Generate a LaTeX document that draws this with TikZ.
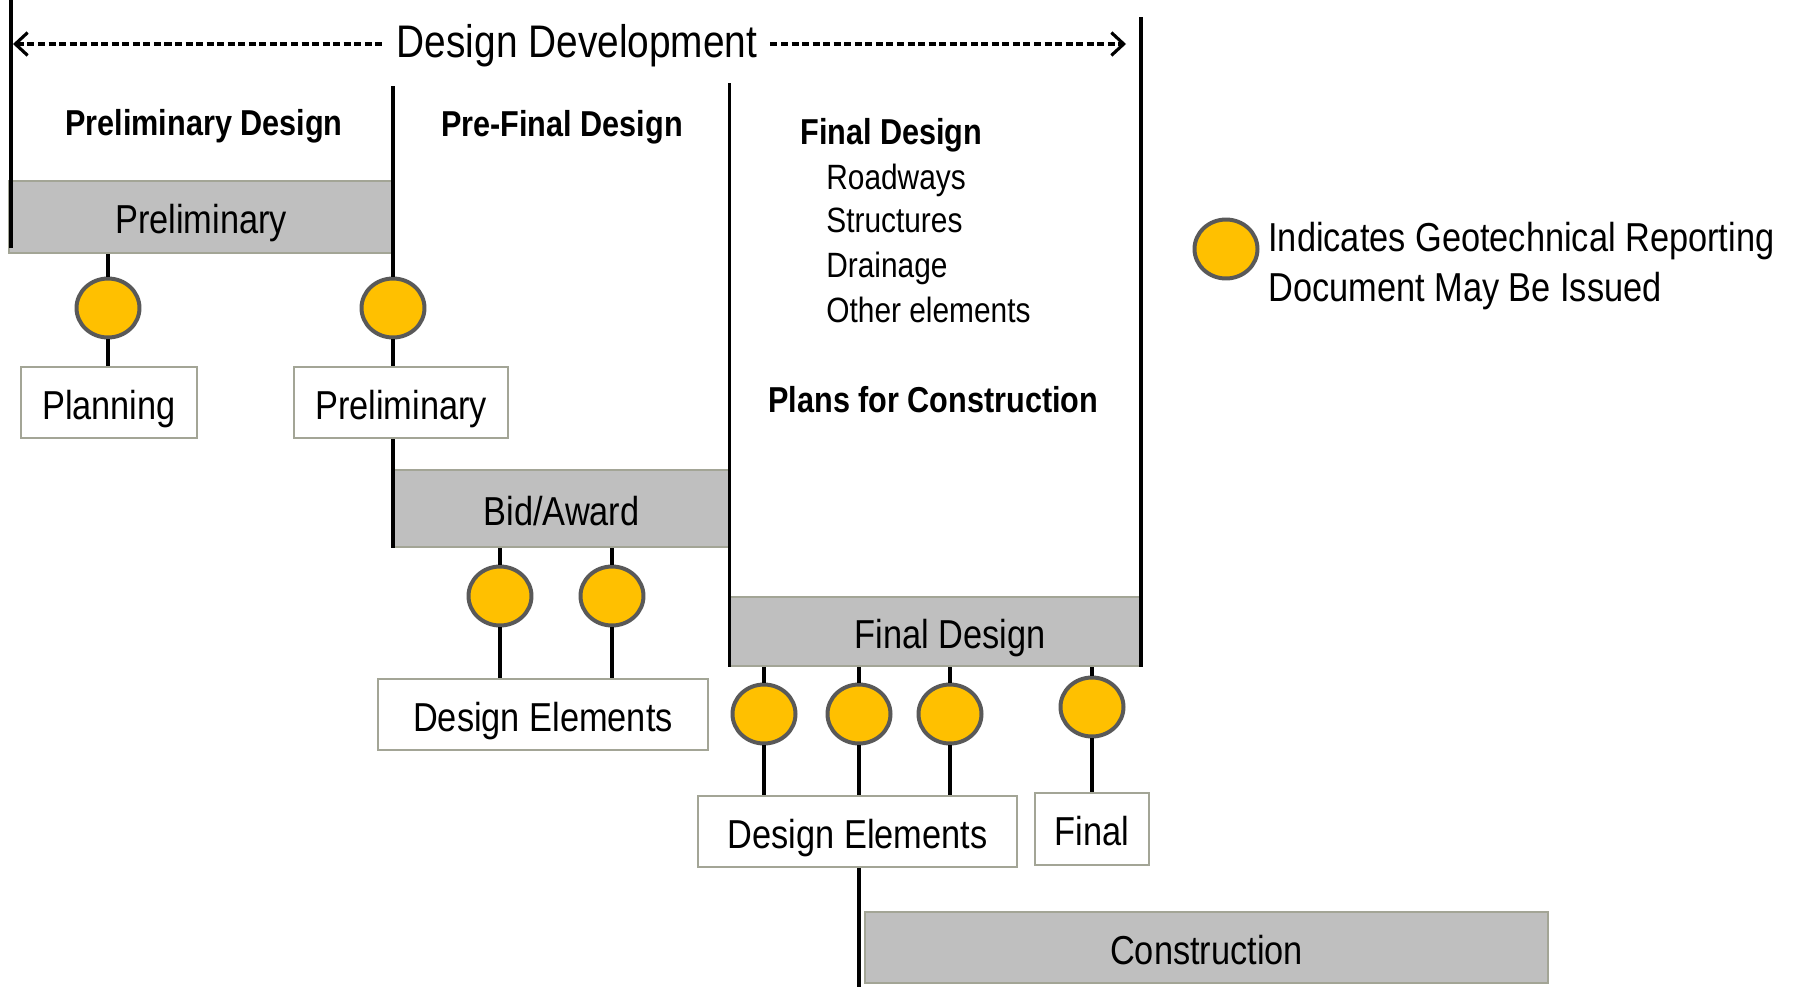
\documentclass[tikz,border=0pt]{standalone}
\usepackage{fontspec}
\setmainfont{Liberation Sans}[FakeStretch=0.85]
\usepackage{tikz}
\usetikzlibrary{shapes.geometric,arrows.meta}

\definecolor{barfill}{HTML}{BFBFBF}
\definecolor{barline}{HTML}{A3A596}
\definecolor{geofill}{HTML}{FFC000}
\definecolor{geoline}{HTML}{595959}

\newcommand{\boxfont}{\fontsize{23}{27}\selectfont}
\newcommand{\ddfont}{\fontsize{26}{31}\selectfont}
\newcommand{\headfont}{\fontsize{20.5}{24}\selectfont\bfseries}
\newcommand{\itemfont}{\fontsize{20}{24}\selectfont}

\begin{document}
\begin{tikzpicture}[x=0.02cm,y=-0.02cm,
    bar/.style={draw=barline,fill=barfill,line width=1.2pt,inner sep=0pt,text height=20pt,text depth=1.2pt,font=\boxfont},
    doc/.style={draw=barline,fill=white,line width=1.2pt,inner sep=0pt,text height=20pt,text depth=1.2pt,font=\boxfont},
    geo/.style={ellipse,draw=geoline,fill=geofill,line width=2.27pt,minimum width=1.26cm,minimum height=1.18cm,inner sep=0pt},
    link/.style={line width=1.9pt},
    span/.style={line width=1.8pt,dash pattern=on 4pt off 2pt},
    lbl/.style={inner sep=0pt,text height=15pt,text depth=4.4pt}]
          \useasboundingbox (0,0) rectangle (1798,987);
          % phases
          \node[bar,minimum width=7.68cm,minimum height=1.44cm] (pbar) at (201,217) {Preliminary};
          \node[bar,minimum width=6.7cm,minimum height=1.54cm] (bid) at (561.5,508.5) {Bid/Award};
          \node[bar,minimum width=8.24cm,minimum height=1.38cm] (fbar) at (935,631.5) {\hspace*{0.6cm}Final Design};
          \node[bar,minimum width=13.66cm,minimum height=1.42cm] (cons) at (1206.5,947.5) {Construction};
          % documents
          \node[doc,minimum width=3.52cm,minimum height=1.42cm] (plan) at (109,402.5) {Planning};
          \node[doc,minimum width=4.28cm,minimum height=1.42cm] (pdoc) at (401,402.5) {Preliminary};
          \node[doc,minimum width=6.6cm,minimum height=1.42cm] (de1) at (543,714.5) {Design Elements};
          \node[doc,minimum width=6.38cm,minimum height=1.42cm] (de2) at (857.5,831.5) {Design Elements};
          \node[doc,minimum width=2.28cm,minimum height=1.44cm] (fdoc) at (1092,829) {Final};
          % reporting points
          \node[geo] (g1) at (108,308) {};
          \node[geo] (g2) at (393,308) {};
          \node[geo] (g3) at (500,596) {};
          \node[geo] (g4) at (612,596) {};
          \node[geo] (g5) at (764,714) {};
          \node[geo] (g6) at (859,714) {};
          \node[geo] (g7) at (950,714) {};
          \node[geo] (g8) at (1092,707) {};
          \node[geo] (gkey) at (1226,249) {};
          % headings
          \node[font=\ddfont] (dd) at (577,46) {Design Development};
          \node[lbl,font=\headfont] (hpre) at (204,126) {Preliminary Design};
          \node[lbl,font=\headfont] (hpf) at (562,127) {Pre-Final Design};
          \node[lbl,font=\headfont,anchor=west] (hfin) at (800,135) {Final Design};
          \node[lbl,font=\itemfont,anchor=west] (i1) at (826,180) {Roadways};
          \node[lbl,font=\itemfont,anchor=west] (i2) at (826,223) {Structures};
          \node[lbl,font=\itemfont,anchor=west] (i3) at (826,268) {Drainage};
          \node[lbl,font=\itemfont,anchor=west] (i4) at (826,313) {Other elements};
          \node[lbl,font=\headfont,anchor=west] (hpc) at (768,403) {Plans for Construction};
          \node[inner sep=0pt,font=\fontsize{23}{28.7}\selectfont,anchor=west,align=left] (key) at (1268,266) {Indicates Geotechnical Reporting\\Document May Be Issued};
          % design development span
          \coordinate (ddl) at (13,44);
          \coordinate (ddr) at (1126,44);
          \draw[span,{Straight Barb[length=7pt,width=13pt]}-,shorten >=5pt] (ddl) -- (ddl -| dd.west);
          \draw[span,-{Straight Barb[length=7pt,width=13pt]},shorten <=4pt] (ddr -| dd.east) -- (ddr);
          % dividers
          \coordinate (top0) at (11,0);
          \coordinate (top1) at (393,86);
          \coordinate (top2) at (729.5,83);
          \coordinate (top3) at (1141,17);
          \coordinate (bot) at (0,987);
          \draw[link] (top0) -- (11,248);
          \draw[link] (top1) -- (g2.north);
          \draw[link] (top2) -- (top2 |- fbar.south);
          \draw[link] (top3) -- (top3 |- fbar.south);
          % connectors
          \draw[link] (g1.north |- pbar.south) -- (g1.north);
          \draw[link] (g1.south) -- (g1.south |- plan.north);
          \draw[link] (g2.south) -- (g2.south |- pdoc.north);
          \draw[link] (g2 |- pdoc.south) -- (g2 |- bid.south);
          \draw[link] (g3.north |- bid.south) -- (g3.north);
          \draw[link] (g3.south) -- (g3.south |- de1.north);
          \draw[link] (g4.north |- bid.south) -- (g4.north);
          \draw[link] (g4.south) -- (g4.south |- de1.north);
          \draw[link] (g5.north |- fbar.south) -- (g5.north);
          \draw[link] (g5.south) -- (g5.south |- de2.north);
          \draw[link] (g6.north |- fbar.south) -- (g6.north);
          \draw[link] (g6.south) -- (g6.south |- de2.north);
          \draw[link] (g7.north |- fbar.south) -- (g7.north);
          \draw[link] (g7.south) -- (g7.south |- de2.north);
          \draw[link] (g8.north |- fbar.south) -- (g8.north);
          \draw[link] (g8.south) -- (g8.south |- fdoc.north);
          \draw[link] (de2.south -| g6) -- (g6 |- bot);
\end{tikzpicture}
\end{document}
